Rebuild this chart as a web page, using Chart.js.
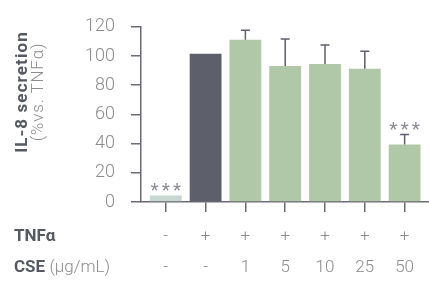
<!DOCTYPE html>
<html><head><meta charset="utf-8">
<script src="https://cdn.jsdelivr.net/npm/chart.js@4"></script>
<style>html,body{margin:0;padding:0;background:#fff}#wrap{width:429px;height:282px;position:relative}</style>
</head><body><div id="wrap"><canvas id="c" width="429" height="282"></canvas></div>
<script>
const categories = [0, 1, 2, 3, 4, 5, 6];
const tnfLabels = ['-', '+', '+', '+', '+', '+', '+'];
const cseLabels = ['-', '-', '1', '5', '10', '25', '50'];
const secretion = [4.5, 101.5, 111.2, 93.2, 94.5, 91.3, 39.3];
const errorTop = [null, null, 117.6, 111.6, 107.5, 103.3, 46.3];
const significance = ['***', '', '', '', '', '', '***'];
const yTicks = [0, 20, 40, 60, 80, 100, 120];
const barColors = ['#c8d7cf', '#5d5f6b', '#b1c8a8', '#b1c8a8', '#b1c8a8', '#b1c8a8', '#b1c8a8'];

const LIGHT = '300 17px Roboto';
const axisColor = '#6b6b75';

const overlay = {
  id: 'overlay',
  afterDatasetsDraw(chart) {
    const ctx = chart.ctx, xs = chart.scales.x, ys = chart.scales.y;
    ctx.save();
    ctx.strokeStyle = '#5d5f6b';
    ctx.lineWidth = 1.5;
    errorTop.forEach((e, i) => {
      if (e == null) return;
      const px = xs.getPixelForValue(categories[i]);
      const y0 = ys.getPixelForValue(secretion[i]);
      const y1 = ys.getPixelForValue(e);
      ctx.beginPath();
      ctx.moveTo(px, y0); ctx.lineTo(px, y1);
      ctx.moveTo(px - 4.5, y1); ctx.lineTo(px + 4.5, y1);
      ctx.stroke();
    });
    ctx.fillStyle = '#8a8a94';
    ctx.font = '400 19px Roboto';
    ctx.letterSpacing = '3px';
    ctx.textAlign = 'center';
    ctx.textBaseline = 'alphabetic';
    significance.forEach((s, i) => {
      if (!s) return;
      const top = errorTop[i] != null ? errorTop[i] : secretion[i];
      const px = xs.getPixelForValue(categories[i]);
      const py = ys.getPixelForValue(top);
      ctx.fillText(s, px + 1.5, py + 1);
    });
    ctx.restore();
  },
  afterDraw(chart) {
    const ctx = chart.ctx;
    ctx.save();
    ctx.translate(27, 92);
    ctx.rotate(-Math.PI / 2);
    ctx.textAlign = 'center';
    ctx.textBaseline = 'alphabetic';
    ctx.fillStyle = '#555a62';
    ctx.font = '700 17px Roboto';
    ctx.letterSpacing = '1.1px';
    ctx.fillText('IL-8 secretion', 0, 0);
    ctx.fillStyle = '#8c8c8c';
    ctx.font = '300 17px Roboto';
    ctx.letterSpacing = '0.8px';
    ctx.fillText('(%vs. TNFα)', 0, 16);
    ctx.restore();
    ctx.save();
    ctx.textBaseline = 'middle';
    ctx.textAlign = 'left';
    ctx.fillStyle = '#555a62';
    ctx.font = '700 17px Roboto';
    ctx.fillText('TNFα', 14, 237);
    ctx.fillText('CSE', 14, 268);
    const w = ctx.measureText('CSE ').width;
    ctx.font = LIGHT;
    ctx.fillStyle = '#8c8c8c';
    ctx.fillText('(µg/mL)', 14 + w, 268);
    ctx.restore();
  }
};

new Chart(document.getElementById('c'), {
  type: 'bar',
  data: {
    datasets: [{
      data: categories.map((c, i) => ({ x: c, y: secretion[i] })),
      backgroundColor: barColors,
      borderWidth: 0,
      barPercentage: 1,
      categoryPercentage: 0.8
    }]
  },
  options: {
    responsive: false,
    animation: false,
    devicePixelRatio: 1,
    layout: { padding: { top: 15, right: 0, left: 0, bottom: 0 } },
    plugins: { legend: { display: false }, tooltip: { enabled: false } },
    scales: {
      x: {
        type: 'linear',
        offset: false,
        min: -0.623,
        max: 6.613,
        afterBuildTicks(s) { s.ticks = categories.map(v => ({ value: v })); },
        afterFit(s) { s.height = 80; s.paddingLeft = 0; s.paddingRight = 0; },
        grid: { offset: false, drawOnChartArea: false, drawTicks: true, tickLength: 10, color: axisColor, lineWidth: 1.5 },
        border: { color: axisColor, width: 1.5 },
        ticks: {
          autoSkip: false,
          maxRotation: 0,
          padding: 9,
          color: '#8a8a8a',
          font: { family: 'Roboto', size: 17, weight: '300', lineHeight: 31 / 17 },
          callback: (v) => [tnfLabels[v], cseLabels[v]]
        }
      },
      y: {
        min: 0,
        max: 120,
        afterBuildTicks(s) { s.ticks = yTicks.map(v => ({ value: v })); },
        afterFit(s) { s.width = 141; },
        grid: { drawOnChartArea: false, drawTicks: true, tickLength: 10, color: axisColor, lineWidth: 1.5 },
        border: { color: axisColor, width: 1.5 },
        ticks: {
          padding: 16,
          color: '#8c8c8c',
          font: { family: 'Roboto', size: 18, weight: '300' }
        }
      }
    }
  },
  plugins: [overlay]
});
</script></body></html>
